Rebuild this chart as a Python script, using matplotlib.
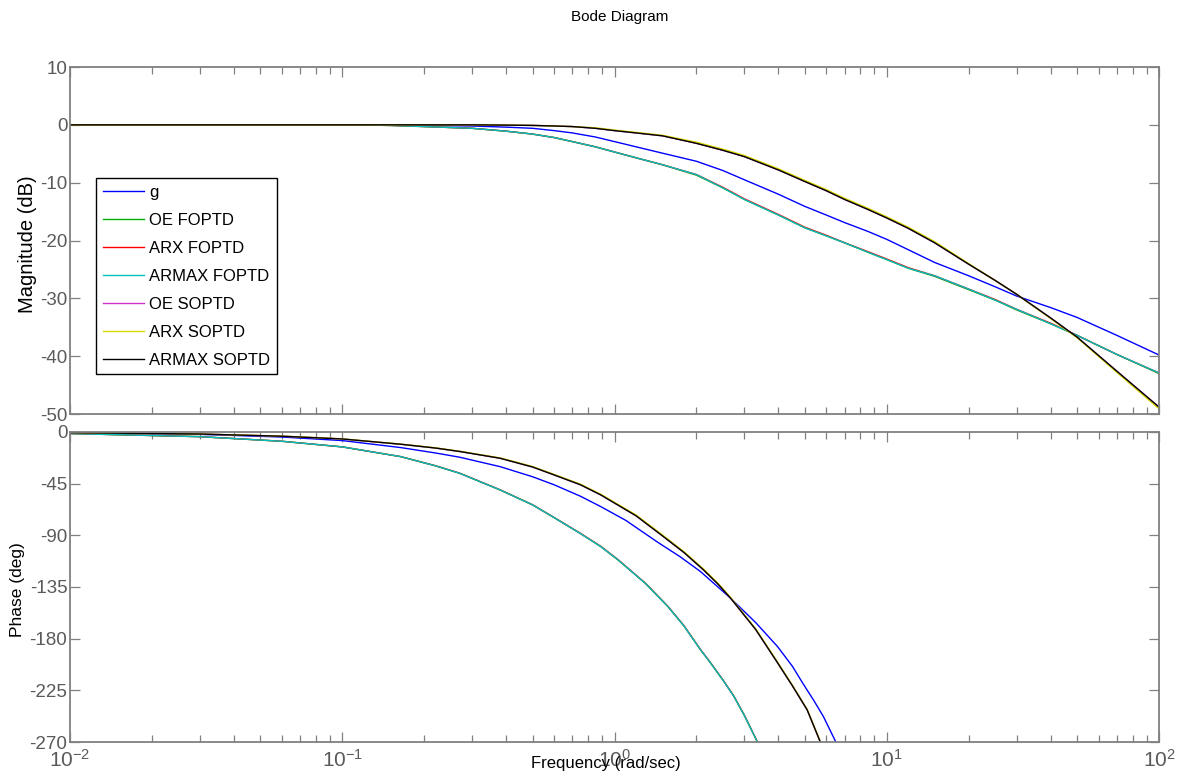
import matplotlib
matplotlib.use("Agg")
import matplotlib.pyplot as plt
from matplotlib.ticker import LogLocator, FixedLocator, NullFormatter

plt.rcParams['font.family'] = ['Liberation Sans', 'DejaVu Sans']
plt.rcParams['axes.unicode_minus'] = False
plt.rcParams['mathtext.default'] = 'regular'

# ---------------- data ----------------
labels = ['g', 'OE FOPTD', 'ARX FOPTD', 'ARMAX FOPTD', 'OE SOPTD', 'ARX SOPTD', 'ARMAX SOPTD']
colors = ['#0000FF', '#00B000', '#FF0000', '#00BFBF', '#CC33CC', '#D8D800', '#000000']

w_mag = [0.01, 0.03, 0.1, 0.15, 0.2, 0.3, 0.4, 0.5, 0.6, 0.7, 0.85, 1, 1.2, 1.5, 2, 2.5, 3, 4, 5, 6,
         7, 8.5, 10, 12, 15, 20, 25, 30, 40, 50, 70, 100]

mag_g        = [0, 0, 0, -0.05, -0.1, -0.2, -0.4, -0.6, -1.0, -1.4, -2.1, -2.9, -3.8, -4.9, -6.3, -7.9,
                -9.5, -12.0, -14.1, -15.6, -16.9, -18.4, -19.8, -21.6, -23.8, -26.1, -28.0, -29.6, -31.6,
                -33.3, -36.4, -39.8]
mag_oe_fo    = [0, 0, 0, -0.1, -0.3, -0.6, -1.1, -1.6, -2.2, -2.9, -3.8, -4.7, -5.7, -6.9, -8.7, -10.9,
                -12.9, -15.6, -17.8, -19.2, -20.4, -22.0, -23.3, -24.8, -26.2, -28.5, -30.3, -32.0, -34.4,
                -36.4, -39.7, -43.0]
mag_arx_fo   = [0, 0, 0, -0.1, -0.3, -0.6, -1.1, -1.6, -2.2, -2.9, -3.8, -4.7, -5.7, -6.9, -8.6, -10.8,
                -12.8, -15.5, -17.7, -19.1, -20.4, -21.9, -23.2, -24.7, -26.1, -28.4, -30.2, -31.9, -34.3,
                -36.4, -39.7, -42.9]
mag_armax_fo = [0, 0, 0, -0.1, -0.3, -0.6, -1.1, -1.6, -2.2, -2.9, -3.8, -4.7, -5.7, -6.9, -8.6, -10.9,
                -12.9, -15.6, -17.8, -19.2, -20.4, -22.0, -23.3, -24.8, -26.1, -28.4, -30.3, -31.9, -34.4,
                -36.4, -39.7, -42.9]
mag_oe_so    = [0, 0, 0, 0, 0, 0, -0.05, -0.1, -0.2, -0.3, -0.6, -1.0, -1.4, -1.9, -3.2, -4.4,
                -5.5, -7.8, -9.8, -11.4, -12.9, -14.6, -16.1, -17.9, -20.4, -24.1, -26.9, -29.3, -33.4,
                -36.7, -42.6, -48.8]
mag_arx_so   = [0, 0, 0, 0, 0, 0, -0.05, -0.1, -0.2, -0.3, -0.5, -0.9, -1.3, -1.8, -3.0, -4.2,
                -5.3, -7.6, -9.6, -11.2, -12.7, -14.4, -15.9, -17.7, -20.2, -24.0, -26.9, -29.3, -33.5,
                -36.8, -42.8, -49.1]
mag_armax_so = [0, 0, 0, 0, 0, 0, -0.05, -0.1, -0.2, -0.3, -0.6, -1.0, -1.4, -1.9, -3.2, -4.4,
                -5.5, -7.8, -9.8, -11.4, -12.9, -14.6, -16.1, -17.9, -20.4, -24.1, -26.9, -29.3, -33.4,
                -36.7, -42.6, -48.8]

w_ph_g = [0.01, 0.03, 0.06, 0.1, 0.164, 0.22, 0.27, 0.38, 0.5, 0.6, 0.75, 0.89, 1.1, 1.44, 1.75, 2.07,
          2.67, 3.3, 3.97, 4.5, 4.95, 5.4, 5.85, 6.5, 7.0]
ph_g   = [-0.7, -2.1, -4.4, -7.5, -13.6, -18.3, -22, -30.2, -39, -46, -56, -65, -77, -96, -109, -121.6,
          -144.8, -166, -186.9, -204, -220, -234, -247.8, -270, -285]

w_ph_fo     = [0.01, 0.03, 0.06, 0.1, 0.164, 0.22, 0.27, 0.38, 0.5, 0.6, 0.75, 0.89, 1.03, 1.3, 1.57,
               1.8, 2.07, 2.25, 2.5, 2.74, 3.0, 3.3, 3.6]
ph_oe_fo    = [-1.4, -4.1, -8.1, -13, -21.5, -29.5, -36, -50.5, -63.5, -74.6, -88.5, -99.8, -111.4, -132,
               -152, -169, -189.7, -201, -216, -230, -247, -267, -285]
ph_arx_fo   = [-1.4, -4.1, -8.1, -13, -21.5, -29.4, -35.9, -50.4, -63.4, -74.5, -88.3, -99.6, -111.2,
               -131.8, -151.8, -168.8, -189.5, -200.8, -215.8, -229.8, -246.8, -266.8, -285]
ph_armax_fo = [-1.4, -4.1, -8.1, -13, -21.5, -29.5, -36, -50.5, -63.5, -74.6, -88.5, -99.8, -111.4, -132,
               -152, -169, -189.7, -201, -216, -230, -247, -267, -285]

w_ph_so     = [0.01, 0.03, 0.06, 0.1, 0.164, 0.22, 0.27, 0.38, 0.5, 0.6, 0.75, 0.89, 1.2, 1.51, 1.8,
               2.12, 2.4, 2.67, 3.3, 3.97, 4.5, 5.1, 5.7, 6.0]
ph_oe_so    = [-0.6, -1.8, -3.7, -6.1, -10.7, -14, -17, -22.9, -30.5, -37.4, -46, -54.8, -73, -91, -105,
               -120, -132.5, -144.8, -172, -201, -221, -242, -270, -283]
ph_arx_so   = [-0.6, -1.8, -3.6, -6.0, -10.6, -13.8, -16.8, -22.6, -30.1, -37.0, -45.5, -54.2, -72.3,
               -90.2, -104.3, -119.2, -131.8, -144.2, -171.4, -200.4, -220.5, -241.6, -269.6, -283]
ph_armax_so = [-0.6, -1.8, -3.7, -6.1, -10.7, -14, -17, -22.9, -30.5, -37.4, -46, -54.8, -73, -91, -105,
               -120, -132.5, -144.8, -172, -201, -221, -242, -270, -283]

mag_yticks = [10, 0, -10, -20, -30, -40, -50]
ph_yticks = [0, -45, -90, -135, -180, -225, -270]

# ---------------- figure ----------------
fig = plt.figure(figsize=(11.81, 7.80), dpi=100)
ax1 = fig.add_axes([0.0593, 0.4692, 0.9221, 0.4449])
ax2 = fig.add_axes([0.0593, 0.0487, 0.9221, 0.3975])

mag_series = [mag_g, mag_oe_fo, mag_arx_fo, mag_armax_fo, mag_oe_so, mag_arx_so, mag_armax_so]
ph_series = [(w_ph_g, ph_g), (w_ph_fo, ph_oe_fo), (w_ph_fo, ph_arx_fo), (w_ph_fo, ph_armax_fo),
             (w_ph_so, ph_oe_so), (w_ph_so, ph_arx_so), (w_ph_so, ph_armax_so)]

for lab, col, m in zip(labels, colors, mag_series):
    ax1.plot(w_mag, m, color=col, lw=1.0, label=lab)
for col, (w, p) in zip(colors, ph_series):
    ax2.plot(w, p, color=col, lw=1.0)

gray = '#808080'
tick_gray = '#5a5a5a'
for ax in (ax1, ax2):
    ax.set_xscale('log')
    ax.set_xlim(0.01, 100)
    for s in ax.spines.values():
        s.set_color(gray)
        s.set_linewidth(1.3)
    ax.xaxis.set_major_locator(LogLocator(base=10, numticks=10))
    ax.xaxis.set_minor_locator(LogLocator(base=10, subs=range(2, 10), numticks=100))
    ax.xaxis.set_minor_formatter(NullFormatter())
    ax.tick_params(which='major', direction='in', top=True, right=True, length=7,
                   width=0.9, color=gray, labelcolor=tick_gray)
    ax.tick_params(which='minor', direction='in', top=True, right=True, length=5,
                   width=0.9, color=gray)
    ax.tick_params(axis='y', labelsize=13.5, pad=2)

ax1.set_ylim(-50, 10)
ax1.yaxis.set_major_locator(FixedLocator(mag_yticks))
ax1.tick_params(axis='x', which='both', labelbottom=False)

ax2.set_ylim(-270, 0)
ax2.yaxis.set_major_locator(FixedLocator(ph_yticks))
ax2.tick_params(axis='x', which='major', pad=5, labelsize=15)

leg = ax1.legend(loc='upper left', bbox_to_anchor=(0.0239, 0.680), borderaxespad=0,
                 fontsize=12, frameon=True, fancybox=False, framealpha=1,
                 handlelength=2.5, handletextpad=0.3, labelspacing=0.78, borderpad=0.4)
leg.get_frame().set_edgecolor('black')
leg.get_frame().set_linewidth(1.0)

fig.text(0.525, 0.978, 'Bode Diagram', ha='center', va='center', fontsize=11)
fig.text(0.513, 0.021, 'Frequency (rad/sec)', ha='center', va='center', fontsize=12)
fig.text(0.0237, 0.687, 'Magnitude (dB)', ha='center', va='center', rotation=90, fontsize=14.5)
fig.text(0.0152, 0.244, 'Phase (deg)', ha='center', va='center', rotation=90, fontsize=12.5)

fig.savefig('out.png', dpi=100)
